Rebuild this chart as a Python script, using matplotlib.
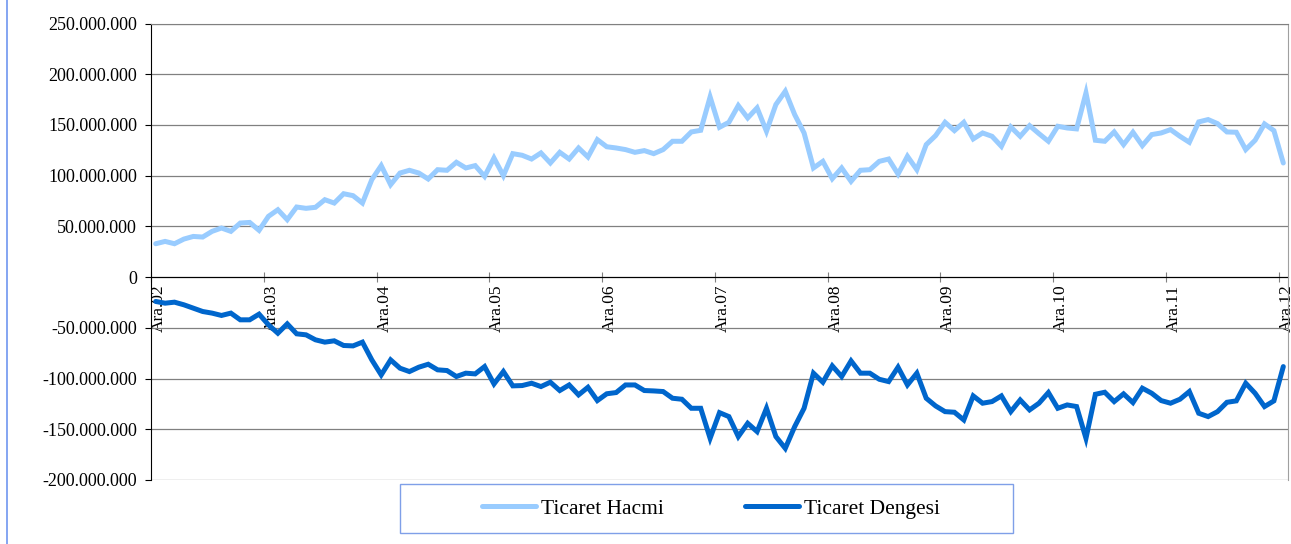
import numpy as np
import matplotlib
matplotlib.use("Agg")
import matplotlib.pyplot as plt
from matplotlib.ticker import FuncFormatter, MultipleLocator
from matplotlib.lines import Line2D
from matplotlib.patches import Rectangle

# ---------- data (million, monthly Ara.02 .. Ara.12) ----------
year_labels = ["Ara.02", "Ara.03", "Ara.04", "Ara.05", "Ara.06", "Ara.07",
               "Ara.08", "Ara.09", "Ara.10", "Ara.11", "Ara.12"]

ticaret_hacmi = [
    32.9, 35.2, 32.9, 37.5, 40.1, 39.5, 45.1, 48.4, 45.1, 53.3, 53.9, 46.1,
    59.9, 66.4, 56.6, 69.1, 67.8, 68.8, 76.3, 73.0, 82.2, 80.3, 73.0, 96.1,
    109.9, 91.1, 102.6, 105.3, 102.6, 96.7, 105.9, 105.3, 113.2, 107.6, 109.9, 99.3,
    117.4, 100.0, 121.7, 120.1, 116.4, 122.4, 112.5, 123.0, 116.4, 127.3, 118.4, 135.5,
    128.5, 127.3, 125.7, 123.0, 124.7, 121.7, 125.7, 133.9, 133.9, 143.1, 144.7, 177.6,
    147.7, 152.6, 169.1, 156.9, 166.8, 143.8, 170.1, 183.2, 160.2, 142.1, 107.6, 114.1,
    97.0, 107.6, 94.4, 105.3, 105.9, 114.1, 116.4, 101.6, 119.1, 105.9, 130.6, 139.5,
    152.6, 144.4, 152.6, 136.2, 142.1, 138.8, 128.9, 148.0, 138.8, 149.3, 141.4, 133.9,
    148.7, 147.0, 146.1, 181.6, 134.9, 133.9, 143.1, 130.6, 142.8, 129.6, 140.5, 142.1,
    145.4, 138.8, 132.9, 153.0, 155.3, 151.3, 143.1, 142.8, 125.7, 134.9, 151.0, 144.4,
    112.5,
]

ticaret_dengesi = [
    -24.0, -25.7, -24.7, -27.3, -30.6, -33.9, -35.5, -37.8, -35.5, -42.1, -42.1, -36.5,
    -47.0, -55.3, -46.1, -55.9, -56.9, -61.8, -64.1, -62.8, -67.4, -67.8, -64.1, -81.6,
    -96.4, -81.6, -89.8, -93.1, -88.8, -85.9, -91.4, -92.1, -98.0, -94.7, -95.4, -88.2,
    -105.3, -93.1, -107.2, -106.9, -104.6, -107.9, -103.6, -111.8, -106.3, -116.1, -108.6, -121.7,
    -115.0, -113.8, -106.3, -106.3, -111.8, -112.2, -112.8, -119.4, -120.4, -129.3, -129.3, -158.9,
    -133.6, -137.5, -157.2, -144.1, -152.3, -129.3, -157.2, -168.8, -147.4, -129.3, -94.7, -103.6,
    -87.5, -98.0, -82.6, -94.7, -94.7, -100.7, -103.0, -88.8, -106.3, -94.7, -119.4, -127.0,
    -132.6, -133.2, -140.8, -117.1, -124.3, -122.7, -117.1, -132.6, -121.1, -130.9, -124.3, -113.8,
    -129.3, -126.0, -127.6, -158.9, -115.5, -113.5, -122.7, -115.1, -123.7, -109.5, -114.5, -121.7,
    -124.3, -120.4, -112.8, -134.2, -137.5, -132.6, -123.4, -122.0, -104.6, -114.5, -127.6, -122.0,
    -88.2,
]

hacmi = np.array(ticaret_hacmi) * 1e6
denge = np.array(ticaret_dengesi) * 1e6
# category centres (excel "between tick marks")
x = np.arange(len(hacmi)) + 0.5

plt.rcParams['font.family'] = ['Liberation Serif', 'DejaVu Serif']

fig = plt.figure(figsize=(12.91, 5.44), dpi=100)
ax = fig.add_axes([151 / 1291, 1 - 480 / 544, 1137 / 1291, 456.5 / 544])

ax.plot(x, hacmi, color='#99CCFF', lw=3.6, solid_capstyle='round',
        solid_joinstyle='miter', label='Ticaret Hacmi', zorder=3)
ax.plot(x, denge, color='#0066CC', lw=3.6, solid_capstyle='round',
        solid_joinstyle='miter', label='Ticaret Dengesi', zorder=3)

ax.set_xlim(0, len(hacmi))
ax.set_ylim(-200e6, 250e6)
ax.yaxis.set_major_locator(MultipleLocator(50e6))
ax.yaxis.set_major_formatter(FuncFormatter(lambda v, p: f"{int(round(v)):,}".replace(",", ".")))
ax.grid(axis='y', color='#808080', lw=0.9, zorder=0)
ax.set_axisbelow(True)

ax.set_xticks(np.arange(0, len(hacmi) + 1, 12))
ax.set_xticklabels(year_labels)
ax.spines['bottom'].set_position(('data', 0))
ax.spines['bottom'].set_color('black')
ax.spines['bottom'].set_zorder(2)
ax.spines['left'].set_color('black')
ax.spines['top'].set_color('#808080')
ax.spines['right'].set_color('#a0a0a0')
ax.tick_params(axis='x', direction='inout', length=7, color='#808080',
               labelsize=12.5, pad=2)
ax.tick_params(axis='y', direction='out', length=4, labelsize=13, pad=6)
plt.setp(ax.get_xticklabels(), rotation=90, ha='left', va='top')

# outer chart border on the left
fig.add_artist(Line2D([6.5 / 1291, 6.5 / 1291], [0, 1], color='#7096f0', lw=1.2))

# legend with its own frame
fig.add_artist(Rectangle((400 / 1291, 1 - 533 / 544), 613 / 1291, 49 / 544,
                         transform=fig.transFigure, fill=False,
                         edgecolor='#7f9fe8', lw=1))
fig.legend(loc='center', bbox_to_anchor=(711 / 1291, 1 - 508.5 / 544),
           ncol=2, frameon=False, fontsize=15.5, handlelength=2.5,
           handletextpad=0.23, columnspacing=3.8)

fig.savefig('out.png', dpi=100)
